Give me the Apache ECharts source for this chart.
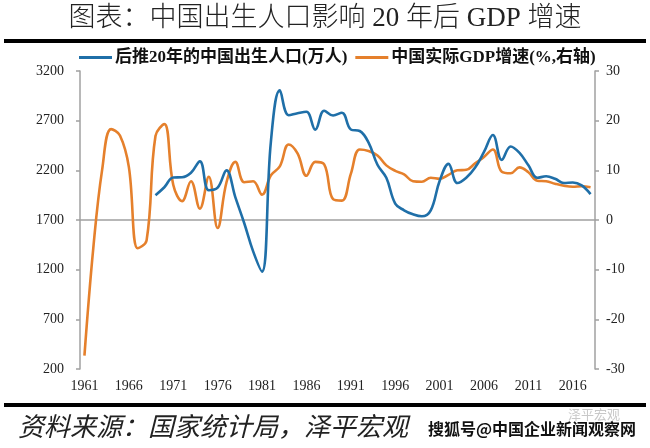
<!DOCTYPE html>
<html><head><meta charset="utf-8">
<script src="https://cdn.jsdelivr.net/npm/echarts@6/dist/echarts.min.js"></script>
<style>html,body{margin:0;padding:0;background:#fff}#c{width:650px;height:448px}</style>
</head><body><div id="c"></div>
<script>
const years = ['1961','1962','1963','1964','1965','1966','1967','1968','1969','1970',
'1971','1972','1973','1974','1975','1976','1977','1978','1979','1980',
'1981','1982','1983','1984','1985','1986','1987','1988','1989','1990',
'1991','1992','1993','1994','1995','1996','1997','1998','1999','2000',
'2001','2002','2003','2004','2005','2006','2007','2008','2009','2010',
'2011','2012','2013','2014','2015','2016','2017','2018'];
// 后推20年的中国出生人口(万人)
const births = [null,null,null,null,null,null,null,null,1950,2030,
2128,2130,2175,2290,2000,2025,2200,1927,1667,1384,
1180,2490,3005,2755,2775,2790,2610,2800,2752,2780,
2611,2596,2480,2256,2125,1866,1798,1757,1737,1797,
2093,2265,2072,2125,2228,2385,2555,2305,2440,2375,
2250,2125,2140,2115,2073,2078,2048,1960];
// 中国实际GDP增速(%,右轴)
const gdp = [-27.3,-5.6,10.2,18.3,17.0,10.7,-5.7,-4.1,16.9,19.3,
7.1,3.8,7.8,2.3,8.7,-1.6,7.6,11.7,7.6,7.8,
5.1,9.0,10.8,15.2,13.4,8.9,11.7,11.2,4.2,3.9,
9.3,14.2,13.9,13.0,11.0,9.9,9.2,7.8,7.7,8.5,
8.3,9.1,10.0,10.1,11.4,12.7,14.2,9.7,9.4,10.6,
9.6,7.9,7.8,7.3,6.9,6.7,6.8,6.6];
const leftTicks = {min:200, max:3200, interval:500};
const rightTicks = {min:-30, max:30, interval:10};

const serif = "'Liberation Serif','Noto Sans CJK SC'";
const BLUE = '#1f6fa8', ORANGE = '#e5802c';
const chart = echarts.init(document.getElementById('c'), null, {renderer:'canvas'});
const axisStyle = {lineStyle:{color:'#a0a0a0', width:1.5}};
chart.setOption({
  animation:false,
  title:{text:'图表：中国出生人口影响 20 年后 GDP 增速', left:'center', top:0,
    textStyle:{fontFamily:serif, fontSize:27, fontWeight:300, color:'#222'}},
  legend:{left:74, top:44, itemWidth:33, itemHeight:3, itemGap:8, icon:'rect',
    textStyle:{fontFamily:serif, fontSize:17, fontWeight:'bold', color:'#111', padding:[0,0,0,-2]},
    data:['后推20年的中国出生人口(万人)','中国实际GDP增速(%,右轴)']},
  grid:{left:80, right:55, top:71, bottom:79},
  xAxis:{type:'category', data:years, boundaryGap:true,
    axisLine:axisStyle,
    axisTick:{interval:4, length:4, lineStyle:{color:'#a0a0a0', width:1.5}},
    axisLabel:{interval:4, margin:10, fontFamily:serif, fontSize:14, color:'#222'}},
  yAxis:[
    {type:'value', min:leftTicks.min, max:leftTicks.max, interval:leftTicks.interval,
     axisLine:Object.assign({show:true}, axisStyle),
     axisTick:{show:true, length:4, lineStyle:{color:'#a0a0a0', width:1.5}},
     splitLine:{show:false},
     axisLabel:{margin:16, fontFamily:serif, fontSize:14, color:'#222', formatter:v => String(v)}},
    {type:'value', min:rightTicks.min, max:rightTicks.max, interval:rightTicks.interval, position:'right',
     axisLine:Object.assign({show:true}, axisStyle),
     axisTick:{show:true, length:4, lineStyle:{color:'#a0a0a0', width:1.5}},
     splitLine:{show:false},
     axisLabel:{margin:11, fontFamily:serif, fontSize:14, color:'#222', formatter:v => String(v)}}
  ],
  series:[
    {name:'后推20年的中国出生人口(万人)', type:'line', data:births, yAxisIndex:0,
     smooth:0.4, showSymbol:false, connectNulls:false,
     lineStyle:{color:BLUE, width:2.6}, itemStyle:{color:BLUE}, z:3},
    {name:'中国实际GDP增速(%,右轴)', type:'line', data:gdp, yAxisIndex:1,
     smooth:0.4, showSymbol:false,
     lineStyle:{color:ORANGE, width:2.6}, itemStyle:{color:ORANGE}, z:2}
  ],
  graphic:[
    {type:'rect', shape:{x:4, y:39, width:642, height:4}, style:{fill:'#000'}},
    {type:'rect', shape:{x:4, y:403, width:642, height:4}, style:{fill:'#000'}},
    {type:'text', left:18, top:413, style:{text:'资料来源：国家统计局，泽平宏观',
      font:"italic 26px 'Noto Sans CJK SC'", fill:'#222'}},
    {type:'text', left:428, top:421, style:{text:'搜狐号@中国企业新闻观察网',
      font:"bold 16px 'Noto Sans CJK SC'", fill:'#111'}},
    {type:'text', left:568, top:408, style:{text:'泽平宏观',
      font:"13px 'Noto Sans CJK SC'", fill:'#c8c8c8'}}
  ]
});
</script></body></html>
